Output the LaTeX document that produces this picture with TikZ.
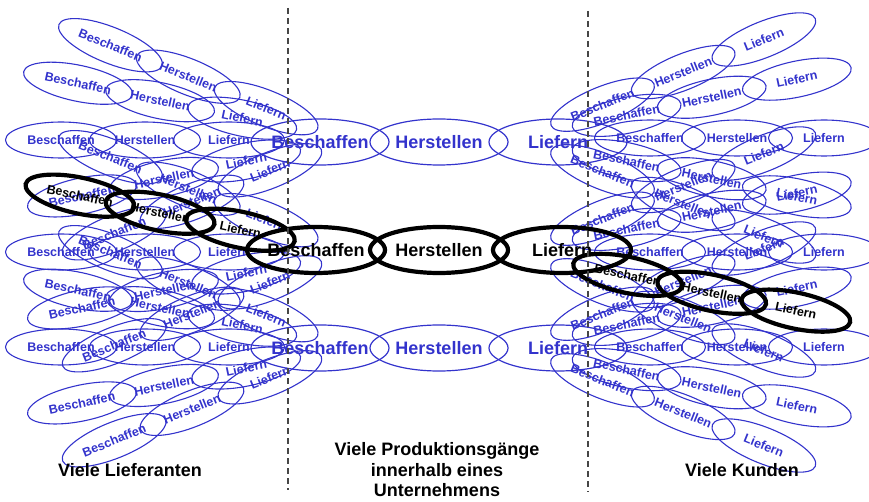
\documentclass[tikz,border=0pt]{standalone}
\usepackage{fontspec}
\setmainfont{Liberation Sans}
\usetikzlibrary{shapes.geometric}

\definecolor{linkblue}{RGB}{51,51,204}
\definecolor{divgray}{RGB}{70,70,70}

\tikzset{
  link/.style={ellipse, draw=linkblue, line width=1.1pt, text=linkblue,
    font=\bfseries\fontsize{12.5}{14}\selectfont,
    minimum width=111pt, minimum height=36pt, inner sep=0pt},
  boldlink/.style={link, draw=black, text=black, line width=4.2pt},
  biglink/.style={ellipse, draw=linkblue, line width=1.2pt, text=linkblue,
    font=\bfseries\fontsize{18}{20}\selectfont,
    minimum width=138pt, minimum height=46pt, inner sep=0pt},
  bigbold/.style={biglink, draw=black, text=black, line width=4.2pt},
  divider/.style={draw=divgray, line width=1.3pt, dash pattern=on 6pt off 4pt},
  caption/.style={font=\bfseries\fontsize{18}{20.5}\selectfont, align=center, inner sep=0pt},
}

% One process chain Beschaffen - Herstellen - Liefern, turned about a pivot.
% #1 name, #2 pivot x, #3 pivot y, #4 angle, #5 distance of the middle link,
% #6 side (-1 = left of the pivot, 1 = right), #7 style, #8 link spacing
\newcommand{\fanchain}[8]{%
  \pgfmathsetmacro\fcx{#2+(#6)*(#5)*cos(#4)}%
  \pgfmathsetmacro\fcy{#3-(#5)*sin(#4)}%
  \pgfmathsetmacro\fang{(#6)*(#4)}%
  \pgfmathsetmacro\fdx{(#8)*cos(\fang)}%
  \pgfmathsetmacro\fdy{-(#8)*sin(\fang)}%
  \node[#7, rotate=\fang] (#1-b) at ({\fcx-(\fdx)},{\fcy-(\fdy)}) {Beschaffen};
  \node[#7, rotate=\fang] (#1-h) at (\fcx,\fcy) {Herstellen};
  \node[#7, rotate=\fang] (#1-l) at ({\fcx+(\fdx)},{\fcy+(\fdy)}) {Liefern};
}

\begin{document}
\begin{tikzpicture}[x=1pt,y=-1pt]
\useasboundingbox (0,0) rectangle (869,502);

% suppliers: three fans of chains
\foreach \g/\yc in {1/140, 2/252, 3/347}{
  \foreach \i/\a/\d in {1/22/169, 2/12/189, 3/0/200, 4/-12/185, 5/-22/165}{
    \ifnum\g\i=22 \else
      \fanchain{sup\g\i}{345}{\yc}{\a}{\d}{-1}{link}{84}
    \fi
  }
}

% customers: three fans of chains
\foreach \g/\yc in {1/138, 2/252, 3/347}{
  \foreach \i/\a/\d in {1/22/176, 2/12/196, 3/0/217, 4/-12/196, 5/-22/176}{
    \ifnum\g\i=24 \else
      \fanchain{cust\g\i}{520}{\yc}{\a}{\d}{1}{link}{87}
    \fi
  }
}

% the company's own chains
\foreach \r/\y in {1/142, 3/348}{
  \node[biglink] (mid\r-b) at (320,\y) {Beschaffen};
  \node[biglink] (mid\r-h) at (439,\y) {Herstellen};
  \node[biglink] (mid\r-l) at (558,\y) {Liefern};
}

% highlighted path through the network
\fanchain{supbold}{345}{252}{12}{189}{-1}{boldlink}{82}
\fanchain{custbold}{520}{252}{-12}{196}{1}{boldlink}{86}
\node[bigbold] (mid2-b) at (316,250) {Beschaffen};
\node[bigbold] (mid2-h) at (439,250) {Herstellen};
\node[bigbold] (mid2-l) at (562,250) {Liefern};

% dividers
\coordinate (divl-top) at (288,8);
\coordinate (divl-bot) at (288,490);
\coordinate (divr-top) at (588,11);
\coordinate (divr-bot) at (588,492);
\draw[divider] (divl-top) -- (divl-bot);
\draw[divider] (divr-top) -- (divr-bot);

% captions
\node[caption] (cap-sup) at (130,470) {Viele Lieferanten};
\node[caption] (cap-int) at (437,470) {Viele Produktionsgänge\\innerhalb eines\\Unternehmens};
\node[caption] (cap-cust) at (742,470) {Viele Kunden};
\end{tikzpicture}
\end{document}
